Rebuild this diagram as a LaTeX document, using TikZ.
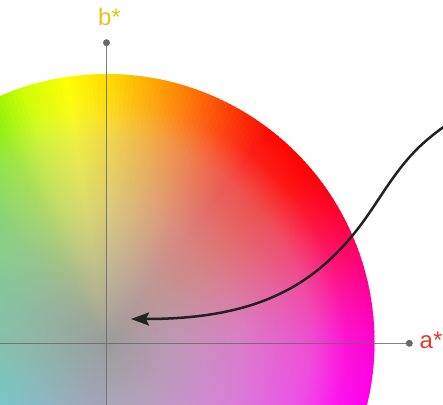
\documentclass[tikz,border=0pt]{standalone}
\usepackage{fontspec}
\setmainfont{Liberation Sans}
\usetikzlibrary{arrows.meta,fadings}

\definecolor{axisgray}{HTML}{6A6A6A}
\definecolor{bstar}{HTML}{E8C31C}
\definecolor{astar}{HTML}{E8372C}
\definecolor{curvecol}{HTML}{222222}

% rim hues
\definecolor{h000}{RGB}{255,0,210}
\definecolor{h010}{RGB}{255,0,160}
\definecolor{h020}{RGB}{255,0,100}
\definecolor{h030}{RGB}{255,0,40}
\definecolor{h040}{RGB}{255,0,0}
\definecolor{h052}{RGB}{255,10,0}
\definecolor{h060}{RGB}{255,50,0}
\definecolor{h068}{RGB}{255,100,0}
\definecolor{h078}{RGB}{255,160,0}
\definecolor{h088}{RGB}{255,215,0}
\definecolor{h098}{RGB}{255,255,0}
\definecolor{h108}{RGB}{205,255,0}
\definecolor{h116}{RGB}{140,242,0}
\definecolor{h130}{RGB}{80,228,50}
\definecolor{h155}{RGB}{30,220,110}
\definecolor{h180}{RGB}{20,218,150}
\definecolor{h205}{RGB}{0,225,210}
\definecolor{h225}{RGB}{30,200,240}
\definecolor{h250}{RGB}{100,150,255}
\definecolor{h275}{RGB}{140,110,255}
\definecolor{h300}{RGB}{190,70,255}
\definecolor{h325}{RGB}{240,20,255}
\definecolor{h345}{RGB}{255,0,240}

% grey overlays (colour and opacity): right half (R), left half (M)
\pgfdeclareradialshading{ovRsh}{\pgfpointorigin}{rgb(0bp)=(0.612,0.612,0.612); rgb(6.25bp)=(0.70,0.69,0.69); rgb(12.5bp)=(0.776,0.765,0.765); rgb(18.75bp)=(0.824,0.81,0.81); rgb(22bp)=(0.9,0.9,0.9); rgb(25bp)=(0.9,0.9,0.9); rgb(50bp)=(0.9,0.9,0.9)}
\pgfdeclareradialshading{ovRfsh}{\pgfpointorigin}{rgb(0bp)=(1,1,1); rgb(6.25bp)=(0.86,0.86,0.86); rgb(12.5bp)=(0.64,0.64,0.64); rgb(18.75bp)=(0.38,0.38,0.38); rgb(22bp)=(0.1,0.1,0.1); rgb(25bp)=(0,0,0); rgb(50bp)=(0,0,0)}
\pgfdeclarefading{ovRf}{\pgfuseshading{ovRfsh}}
\pgfdeclareradialshading{ovMsh}{\pgfpointorigin}{rgb(0bp)=(0.612,0.612,0.612); rgb(6.25bp)=(0.68,0.675,0.675); rgb(12.5bp)=(0.75,0.745,0.745); rgb(18.75bp)=(0.80,0.80,0.80); rgb(22bp)=(0.88,0.88,0.88); rgb(25bp)=(0.88,0.88,0.88); rgb(50bp)=(0.88,0.88,0.88)}
\pgfdeclareradialshading{ovMfsh}{\pgfpointorigin}{rgb(0bp)=(1,1,1); rgb(6.25bp)=(0.82,0.82,0.82); rgb(12.5bp)=(0.59,0.59,0.59); rgb(18.75bp)=(0.34,0.34,0.34); rgb(22bp)=(0.09,0.09,0.09); rgb(25bp)=(0,0,0); rgb(50bp)=(0,0,0)}
\pgfdeclarefading{ovMf}{\pgfuseshading{ovMfsh}}

\def\wR{268}

\tikzset{
  axisline/.style={draw=axisgray, line width=1.6pt, draw opacity=0.85},
  axisdot/.style={circle, fill=axisgray, inner sep=0pt, minimum size=7pt},
  axislabel/.style={font=\fontsize{24}{28}\selectfont, inner sep=0pt, anchor=base west},
  pointer/.style={draw=curvecol, line width=2.5pt, -{Stealth[length=18pt,width=13pt,inset=3pt]}},
}

\begin{document}
\begin{tikzpicture}[x=1pt,y=1pt]
\useasboundingbox (0,0) rectangle (443,404);
\coordinate (W) at (106.5,62);

\begin{scope}
  \clip (0,0) rectangle (443,404);
  % hue wedges
  \foreach \ta/\tb/\ca/\cb in {0/10/h000/h010, 10/20/h010/h020, 20/30/h020/h030, 30/40/h030/h040,
      40/52/h040/h052, 52/60/h052/h060, 60/68/h060/h068, 68/78/h068/h078, 78/88/h078/h088,
      88/98/h088/h098, 98/108/h098/h108, 108/116/h108/h116, 116/130/h116/h130, 130/155/h130/h155,
      155/180/h155/h180, 180/205/h180/h205, 205/225/h205/h225, 225/250/h225/h250,
      250/275/h250/h275, 275/300/h275/h300, 300/325/h300/h325, 325/345/h325/h345, 345/360/h345/h000} {
    \pgfmathtruncatemacro\nn{\tb-\ta-1}
    \foreach \k in {0,...,\nn} {
      \pgfmathsetmacro\th{\ta+\k}
      \pgfmathsetmacro\thb{\ta+\k+1.6}
      \pgfmathtruncatemacro\pp{round(100*\k/(\tb-\ta))}
      \fill[\cb!\pp!\ca] (W) -- ++(\th:\wR) arc[start angle=\th, end angle=\thb, radius=\wR] -- cycle;
    }
  }
  % grey centre overlays, split at the b* axis
  \begin{scope}
    \clip (106.5,-300) rectangle (700,700);
    \shade[shading=ovRsh, path fading=ovRf] (W) circle[radius=\wR];
  \end{scope}
  \begin{scope}
    \clip (106.5,-300) rectangle (-400,700);
    \shade[shading=ovMsh, path fading=ovMf] (W) circle[radius=\wR];
  \end{scope}
\end{scope}

% axes
\node[axisdot] (bdot) at (106.5,361.3) {};
\node[axisdot] (adot) at (409.3,60.7) {};
\coordinate (bbot) at (106.5,-3);
\coordinate (aleft) at (-3,60.7);
\draw[axisline] (bdot.center) -- (bbot);
\draw[axisline] (aleft) -- (adot.center);

\node[axislabel, text=bstar] (blab) at (97.8,378) {b*};
\node[axislabel, text=astar] (alab) at (419.5,55.5) {a*};

% pointer curve
\coordinate (cs) at (445,278);
\coordinate (cm) at (372,195);
\coordinate (ce) at (131,85);
\draw[pointer] (cs) .. controls (410,253.5) and (397,232.5) .. (cm) .. controls (322,120) and (261,85) .. (ce);
\end{tikzpicture}
\end{document}
